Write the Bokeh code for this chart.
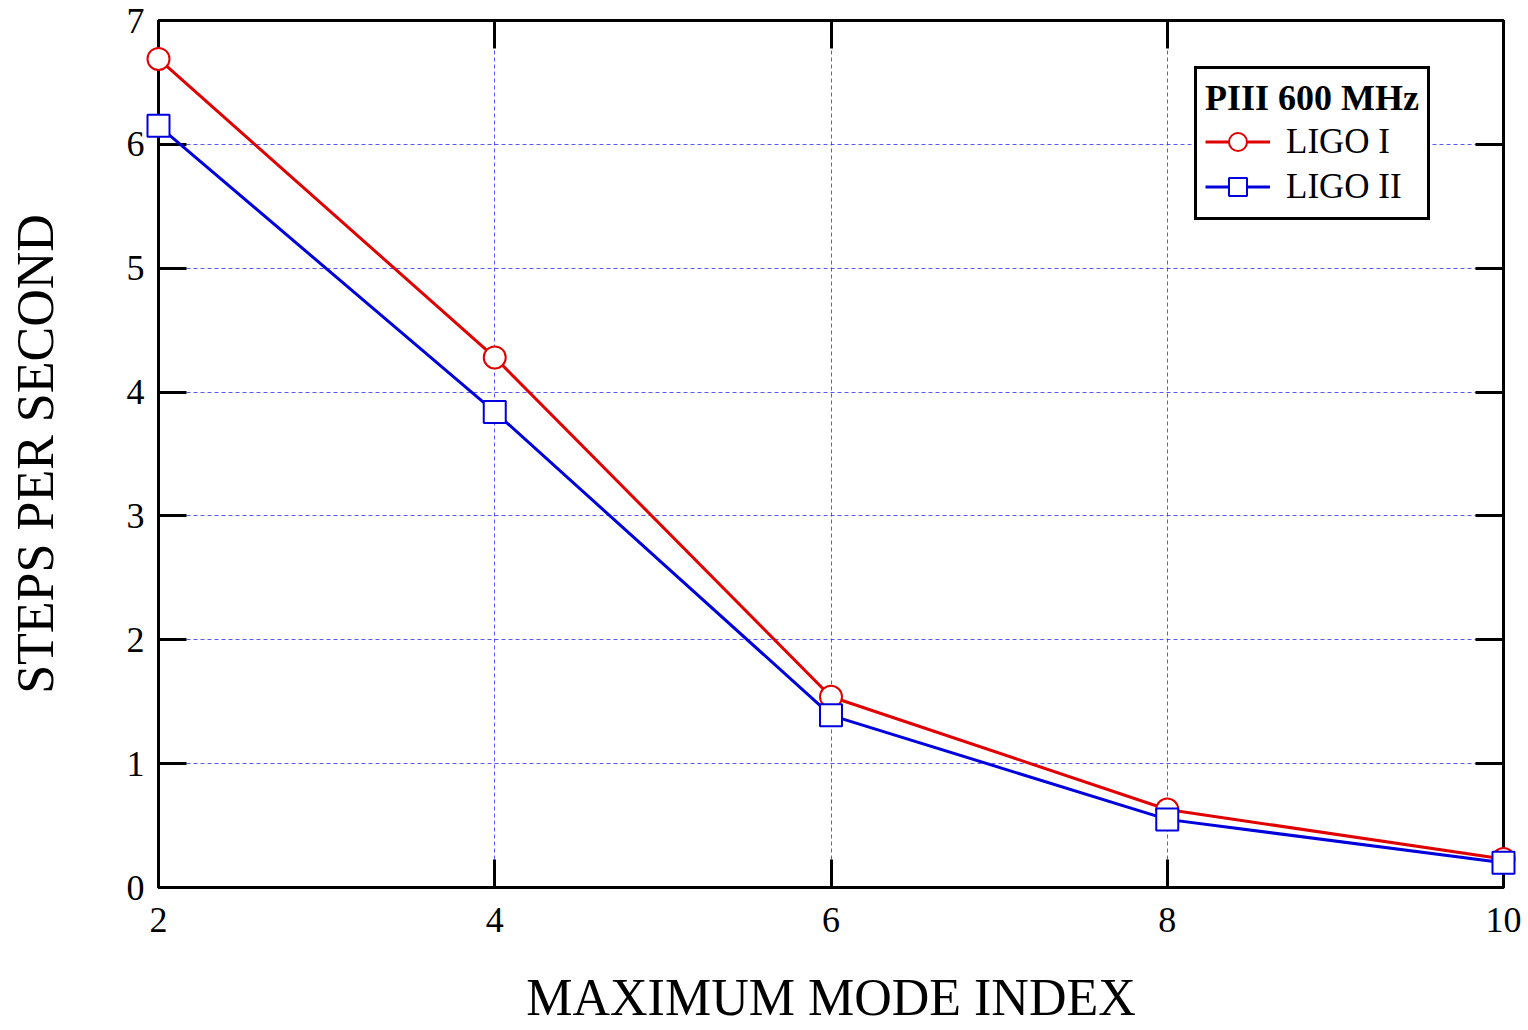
from bokeh.plotting import figure
from bokeh.models import Range1d, LinearAxis, FixedTicker, Legend, LegendItem
from bokeh.embed import file_html
from bokeh.resources import INLINE

mode_index = [2, 4, 6, 8, 10]
ligo1 = [6.69, 4.28, 1.54, 0.63, 0.23]
ligo2 = [6.15, 3.84, 1.39, 0.55, 0.20]
x_ticks = [2, 4, 6, 8, 10]
y_ticks = [0, 1, 2, 3, 4, 5, 6, 7]

FONT = "Liberation Serif"
RED = "#e00000"
BLUE = "#0000dd"

p = figure(width=1528, height=1030, output_backend="svg", toolbar_location=None,
           x_range=Range1d(2, 10), y_range=Range1d(0, 7),
           min_border_left=158, min_border_right=25, min_border_top=20, min_border_bottom=143)
p.background_fill_color = "white"
p.border_fill_color = "white"
p.outline_line_color = "black"
p.outline_line_width = 3
p.outline_line_alpha = 1

p.xaxis.ticker = FixedTicker(ticks=x_ticks)
p.yaxis.ticker = FixedTicker(ticks=y_ticks)

for ax in (p.xaxis[0], p.yaxis[0]):
    ax.axis_line_color = None
    ax.major_tick_in = 28
    ax.major_tick_out = 0
    ax.major_tick_line_width = 3
    ax.minor_tick_line_color = None
    ax.major_label_text_font = FONT
    ax.major_label_text_font_size = "36px"
    ax.major_label_text_color = "black"
    ax.axis_label_text_font = FONT
    ax.axis_label_text_font_size = "52px"
    ax.axis_label_text_font_style = "normal"
    ax.axis_label_text_color = "black"

p.xaxis.axis_label = "MAXIMUM MODE INDEX"
p.yaxis.axis_label = "STEPS PER SECOND"
p.xaxis.major_label_standoff = 20
p.yaxis.major_label_standoff = 14
p.xaxis.axis_label_standoff = 34
p.yaxis.axis_label_standoff = 60

top = LinearAxis(ticker=FixedTicker(ticks=x_ticks),
                 major_label_overrides={t: "" for t in x_ticks},
                 axis_line_color=None, major_tick_in=28, major_tick_out=0,
                 major_tick_line_width=3, minor_tick_line_color=None,
                 major_label_standoff=0)
right = LinearAxis(ticker=FixedTicker(ticks=y_ticks),
                   major_label_overrides={t: "" for t in y_ticks},
                   axis_line_color=None, major_tick_in=28, major_tick_out=0,
                   major_tick_line_width=3, minor_tick_line_color=None,
                   major_label_standoff=0)
p.add_layout(top, "above")
p.add_layout(right, "right")

for g in (p.xgrid[0], p.ygrid[0]):
    g.grid_line_color = "#3b3bff"
    g.grid_line_alpha = 0.85
    g.grid_line_width = 1
    g.grid_line_dash = "4 3"

l1 = p.line(mode_index, ligo1, line_color=RED, line_width=3)
m1 = p.scatter(mode_index, ligo1, marker="circle", size=22, line_color=RED,
               fill_color="white", line_width=2)
l2 = p.line(mode_index, ligo2, line_color=BLUE, line_width=3)
m2 = p.scatter(mode_index, ligo2, marker="square", size=22, line_color=BLUE,
               fill_color="white", line_width=2)
for r in (l1, m1, l2, m2):
    r.level = "overlay"

legend = Legend(items=[LegendItem(label="LIGO I", renderers=[l1, m1]),
                       LegendItem(label="LIGO II", renderers=[l2, m2])],
                location=(1036, 667))
legend.title = "PIII 600 MHz"
legend.title_text_font = FONT
legend.title_text_font_style = "bold"
legend.title_text_font_size = "36px"
legend.title_text_color = "black"
legend.title_standoff = 0
legend.label_text_font = FONT
legend.label_text_font_size = "35px"
legend.label_text_color = "black"
legend.glyph_width = 65
legend.glyph_height = 45
legend.label_standoff = 16
legend.label_height = 45
legend.spacing = 0
legend.padding = 8
legend.margin = 0
legend.border_line_color = "black"
legend.border_line_width = 3
legend.border_line_alpha = 1
legend.background_fill_color = "white"
legend.background_fill_alpha = 1
p.add_layout(legend)

open("out.html", "w").write(file_html(p, INLINE))
